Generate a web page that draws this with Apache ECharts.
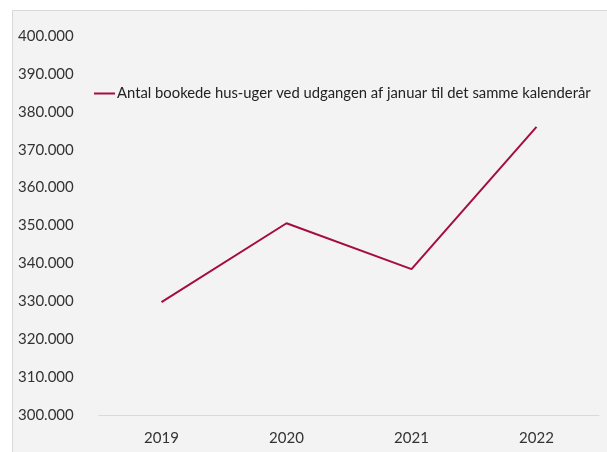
<!DOCTYPE html>
<html>
<head>
<meta charset="utf-8">
<script src="https://cdn.jsdelivr.net/npm/echarts@6/dist/echarts.min.js"></script>
<style>
  html, body { margin: 0; padding: 0; background: #ffffff; }
  #chart { width: 607px; height: 452px; }
</style>
</head>
<body>
<div id="chart"></div>
<script>
var years = ['2019', '2020', '2021', '2022'];
var bookedWeeks = [329800, 350600, 338500, 376000];
var seriesName = 'Antal bookede hus-uger ved udgangen af januar til det samme kalenderår';

var chart = echarts.init(document.getElementById('chart'));

function fmt(v) {
    // danish thousands separator
    return String(v).replace(/\B(?=(\d{3})+(?!\d))/g, '.');
}

chart.setOption({
    backgroundColor: '#ffffff',
    animation: false,
    textStyle: { fontFamily: 'Lato' },
    graphic: [{
        type: 'rect',
        z: -10,
        shape: { x: 12.5, y: 10.5, width: 620, height: 460 },
        style: { fill: '#f3f3f3', stroke: '#d9d9d9', lineWidth: 1 }
    }],
    legend: {
        left: 89,
        top: 81,
        itemWidth: 21,
        itemHeight: 2,
        itemGap: 4,
        icon: 'rect',
        textStyle: { fontSize: 14.8, color: '#222222', fontFamily: 'Lato', padding: [0, 0, 0, -3] },
        data: [seriesName]
    },
    grid: { left: 99, right: 8, top: 36, bottom: 37, containLabel: false },
    xAxis: {
        type: 'category',
        data: years,
        boundaryGap: true,
        axisLine: { show: true, lineStyle: { color: '#d9d9d9', width: 1 } },
        axisTick: { show: false },
        axisLabel: { fontSize: 15, color: '#333333', margin: 16 }
    },
    yAxis: {
        type: 'value',
        min: 300000,
        max: 400000,
        interval: 10000,
        splitLine: { show: false },
        axisLine: { show: false },
        axisTick: { show: false },
        axisLabel: {
            fontSize: 15,
            color: '#333333',
            align: 'left',
            margin: 81,
            formatter: fmt
        }
    },
    series: [{
        name: seriesName,
        type: 'line',
        data: bookedWeeks,
        symbol: 'none',
        lineStyle: { color: '#a50d3f', width: 2 },
        itemStyle: { color: '#a50d3f' }
    }]
});
</script>
</body>
</html>
